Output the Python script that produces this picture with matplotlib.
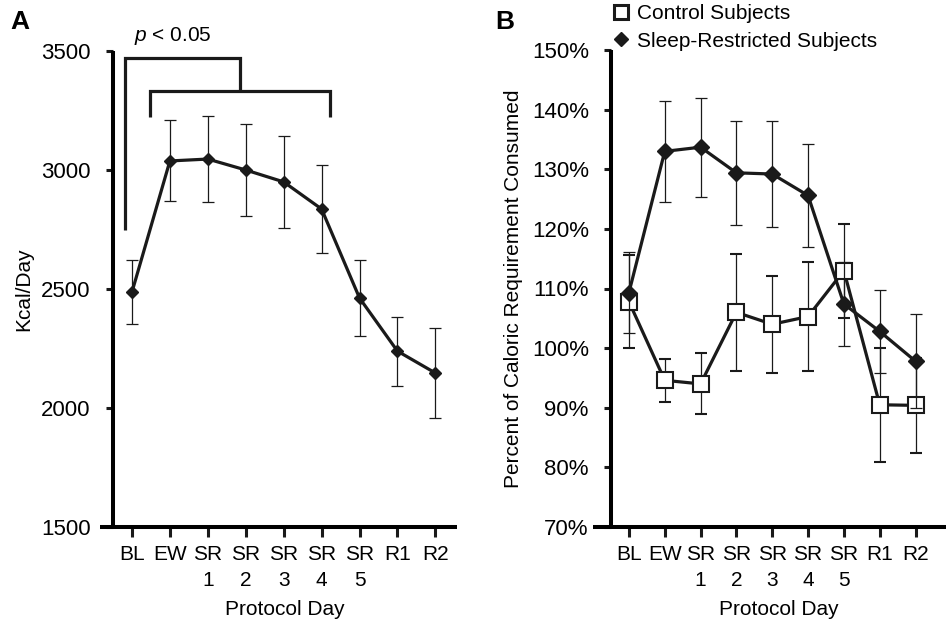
import matplotlib
matplotlib.use("Agg")
import matplotlib.pyplot as plt
from matplotlib.lines import Line2D
import numpy as np

plt.rcParams['font.family'] = ['Liberation Sans', 'DejaVu Sans']
plt.rcParams['mathtext.fontset'] = 'custom'
plt.rcParams['mathtext.it'] = 'Liberation Sans:italic'
plt.rcParams['mathtext.rm'] = 'Liberation Sans'

# protocol days
days = ['BL', 'EW', 'SR\n1', 'SR\n2', 'SR\n3', 'SR\n4', 'SR\n5', 'R1', 'R2']

# panel A: kcal per day (all subjects)
kcal = [2487, 3038, 3046, 3000, 2950, 2836, 2462, 2239, 2147]
kcal_err = [135, 170, 182, 193, 193, 183, 160, 145, 190]
kcal_ticks = [1500, 2000, 2500, 3000, 3500]

# panel B: percent of caloric requirement
control = [107.8, 94.6, 94.0, 106.0, 104.0, 105.3, 113.0, 90.5, 90.4]
control_err = [7.8, 3.6, 5.1, 9.8, 8.1, 9.1, 7.9, 9.6, 8.0]
sleep_restr = [109.3, 133.0, 133.7, 129.4, 129.2, 125.6, 107.4, 102.8, 97.8]
sleep_restr_err = [6.8, 8.5, 8.3, 8.7, 8.9, 8.6, 7.1, 6.9, 7.9]
pct_ticks = [70, 80, 90, 100, 110, 120, 130, 140, 150]

W, H = 946, 621
fig = plt.figure(figsize=(W / 100, H / 100), dpi=100)

ax_a = fig.add_axes([113 / W, 1 - 527 / H, (457 - 113) / W, (527 - 51) / H])
ax_b = fig.add_axes([611 / W, 1 - 527 / H, (946 - 611) / W, (527 - 50) / H])

x = np.arange(len(days))


def style_axis(ax, xmin, xmax, left_ext):
    for s in ['top', 'right']:
        ax.spines[s].set_visible(False)
    for s in ['left', 'bottom']:
        ax.spines[s].set_linewidth(2.9)
        ax.spines[s].set_capstyle('butt')
    ax.set_xlim(xmin, xmax)
    ax.spines['bottom'].set_bounds(xmin - left_ext, xmax)
    ax.tick_params(axis='both', direction='out', width=2.2, color='#1a1a1a')
    ax.tick_params(axis='x', length=7, labelsize=15, pad=6)
    ax.tick_params(axis='y', length=5, labelsize=16, pad=11)
    ax.set_xticks(x)
    ax.set_xticklabels(days, linespacing=1.45)
    ax.set_xlabel('Protocol Day', fontsize=15, labelpad=7)


# ---- panel A ----
style_axis(ax_a, -0.5, 8.57, 0.34)
ax_a.errorbar(x, kcal, yerr=kcal_err, color='#1a1a1a', lw=2.3,
              marker='D', ms=6.5, ecolor='#1a1a1a', elinewidth=0.9,
              capsize=4, capthick=0.9, zorder=3)
ax_a.set_ylim(1500, 3500)
ax_a.set_yticks(kcal_ticks)
ax_a.set_ylabel('Kcal/Day', fontsize=15, labelpad=6)

# significance brackets
bk = dict(color='#1a1a1a', lw=2.3, clip_on=False, solid_capstyle='butt',
          solid_joinstyle='miter')
ax_a.plot([-0.185, -0.185, 2.85, 2.85], [2748, 3471, 3471, 3332], **bk)
ax_a.plot([0.475, 0.475, 5.22, 5.22], [3223, 3332, 3332, 3223], **bk)
ax_a.text(1.08, 3563, r'$p$ < 0.05', fontsize=15, ha='center', va='center',
          clip_on=False)

# ---- panel B ----
style_axis(ax_b, -0.5, 8.85, 0.5)
ax_b.errorbar(x, control, yerr=control_err, color='#1a1a1a', lw=2.3,
              marker='s', ms=11, mfc='white', mec='#1a1a1a', mew=1.5,
              ecolor='#1a1a1a', elinewidth=0.9, capsize=4, capthick=0.9,
              zorder=3)
ax_b.errorbar(x, sleep_restr, yerr=sleep_restr_err, color='#1a1a1a', lw=2.3,
              marker='D', ms=8, ecolor='#1a1a1a', elinewidth=0.9,
              capsize=4, capthick=0.9, zorder=4)
ax_b.set_ylim(70, 150)
ax_b.set_yticks(pct_ticks)
ax_b.set_yticklabels([f'{v}%' for v in pct_ticks])
ax_b.set_ylabel('Percent of Caloric Requirement Consumed', fontsize=15,
                labelpad=6)

handles = [
    Line2D([], [], ls='none', marker='s', ms=10, mfc='white', mec='#1a1a1a',
           mew=2.2),
    Line2D([], [], ls='none', marker='D', ms=7.5, color='#1a1a1a'),
]
fig.legend(handles, ['Control Subjects', 'Sleep-Restricted Subjects'],
           loc='upper left', bbox_to_anchor=(612 / W, 1 - 4 / H),
           frameon=False, fontsize=15, handlelength=0.9, handletextpad=0.3,
           labelspacing=0.42, borderpad=0, borderaxespad=0)

# panel letters
fig.text(10 / W, 1 - 22 / H, 'A', fontsize=19, fontweight='bold', va='center')
fig.text(495 / W, 1 - 22 / H, 'B', fontsize=19, fontweight='bold', va='center')

fig.savefig('out.png', dpi=100)
